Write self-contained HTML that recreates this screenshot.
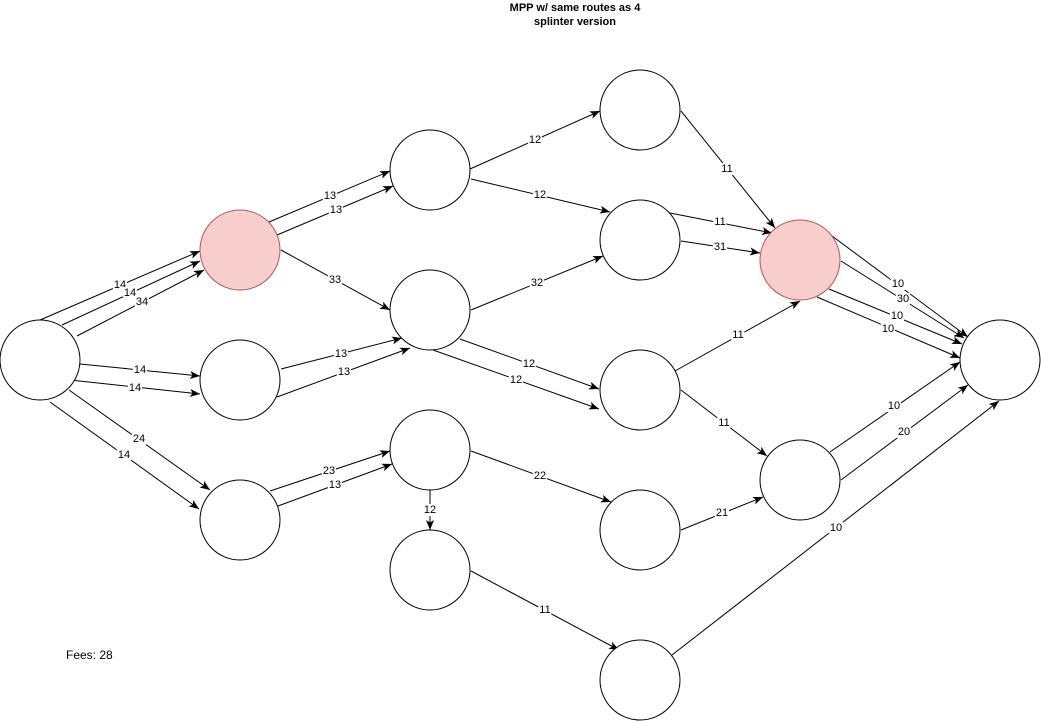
<!DOCTYPE html>
<html><head><meta charset="utf-8"><style>
html,body{margin:0;padding:0;background:#fff;}
#wrap{position:relative;width:1041px;height:721px;overflow:hidden;font-family:"Liberation Sans",Arial,sans-serif;}
svg{position:absolute;left:0;top:0;}
.l{position:absolute;font-size:11px;line-height:12px;background:#fff;color:#000;transform:translate(-50%,-50%);padding:0 1px;white-space:nowrap;}
.title{position:absolute;left:475px;width:200px;top:1px;text-align:center;font-weight:bold;font-size:11px;line-height:14px;}
.fees{position:absolute;left:66px;top:648px;font-size:12px;line-height:14px;}
</style></head><body><div id="wrap">
<svg width="1041" height="721" viewBox="0 0 1041 721">
<defs>
<marker id="a" markerUnits="userSpaceOnUse" markerWidth="10" markerHeight="8" viewBox="0 0 10 8" refX="10" refY="4" orient="auto">
<path d="M0,0 L10,4 L0,8 L2.5,4 Z" fill="#000"/>
</marker>
</defs>
<g stroke="#000" stroke-width="1" fill="none" marker-end="url(#a)">
<line x1="40" y1="320" x2="200" y2="251"/>
<line x1="62" y1="325" x2="200" y2="261"/>
<line x1="77" y1="336" x2="204" y2="270"/>
<line x1="80" y1="364" x2="200" y2="376"/>
<line x1="70" y1="380" x2="200" y2="394"/>
<line x1="69" y1="390" x2="210" y2="490"/>
<line x1="50" y1="402" x2="199" y2="509"/>
<line x1="269" y1="222" x2="390" y2="171"/>
<line x1="277" y1="235" x2="393" y2="186"/>
<line x1="281" y1="250" x2="390" y2="310"/>
<line x1="281" y1="369" x2="402" y2="338"/>
<line x1="277" y1="397" x2="410" y2="348"/>
<line x1="270" y1="491" x2="390" y2="451"/>
<line x1="278" y1="506" x2="392" y2="464"/>
<line x1="430" y1="490" x2="430" y2="530"/>
<line x1="470" y1="169" x2="600" y2="111"/>
<line x1="471" y1="179" x2="610" y2="212"/>
<line x1="471" y1="310" x2="603" y2="256"/>
<line x1="460" y1="339" x2="599" y2="389"/>
<line x1="433" y1="350" x2="599" y2="409"/>
<line x1="681" y1="111" x2="775" y2="228"/>
<line x1="670" y1="213" x2="772" y2="233"/>
<line x1="681" y1="241" x2="760" y2="253"/>
<line x1="675" y1="371" x2="800" y2="301"/>
<line x1="681" y1="390" x2="767" y2="456"/>
<line x1="681" y1="530" x2="763" y2="497"/>
<line x1="471" y1="451" x2="611" y2="502"/>
<line x1="471" y1="571" x2="619" y2="650"/>
<line x1="828" y1="233" x2="968" y2="337"/>
<line x1="841" y1="261" x2="964" y2="338"/>
<line x1="829" y1="289" x2="962" y2="344"/>
<line x1="817" y1="297" x2="960" y2="358"/>
<line x1="830" y1="452" x2="960" y2="362"/>
<line x1="841" y1="480" x2="968" y2="385"/>
<line x1="672" y1="655" x2="999" y2="401"/>
</g>
<g stroke="#000" stroke-width="1" fill="#fff">
<circle cx="40" cy="360" r="40"/>
<circle cx="240" cy="380" r="40"/>
<circle cx="240" cy="520" r="40"/>
<circle cx="430" cy="170" r="40"/>
<circle cx="430" cy="310" r="40"/>
<circle cx="430" cy="450" r="40"/>
<circle cx="430" cy="570" r="40"/>
<circle cx="640" cy="110" r="40"/>
<circle cx="640" cy="240" r="40"/>
<circle cx="640" cy="390" r="40"/>
<circle cx="640" cy="530" r="40"/>
<circle cx="640" cy="680" r="40"/>
<circle cx="800" cy="480" r="40"/>
<circle cx="1000" cy="360" r="40"/>
</g>
<g stroke="#b85450" stroke-width="1" fill="#f8cecc">
<circle cx="240" cy="250" r="40"/>
<circle cx="800" cy="260" r="40"/>
</g>
</svg>
<div class="title">MPP w/ same routes as 4<br>splinter version</div>
<div class="fees">Fees: 28</div>
<div class="l" style="left:120px;top:285px">14</div>
<div class="l" style="left:130px;top:293px">14</div>
<div class="l" style="left:142px;top:302px">34</div>
<div class="l" style="left:140px;top:370px">14</div>
<div class="l" style="left:135px;top:388px">14</div>
<div class="l" style="left:139px;top:439px">24</div>
<div class="l" style="left:124px;top:455px">14</div>
<div class="l" style="left:330px;top:196px">13</div>
<div class="l" style="left:336px;top:210px">13</div>
<div class="l" style="left:335px;top:280px">33</div>
<div class="l" style="left:341px;top:354px">13</div>
<div class="l" style="left:344px;top:372px">13</div>
<div class="l" style="left:329px;top:471px">23</div>
<div class="l" style="left:335px;top:485px">13</div>
<div class="l" style="left:430px;top:510px">12</div>
<div class="l" style="left:535px;top:140px">12</div>
<div class="l" style="left:540px;top:195px">12</div>
<div class="l" style="left:537px;top:283px">32</div>
<div class="l" style="left:529px;top:364px">12</div>
<div class="l" style="left:516px;top:380px">12</div>
<div class="l" style="left:727px;top:169px">11</div>
<div class="l" style="left:720px;top:222px">11</div>
<div class="l" style="left:720px;top:247px">31</div>
<div class="l" style="left:738px;top:335px">11</div>
<div class="l" style="left:724px;top:423px">11</div>
<div class="l" style="left:722px;top:513px">21</div>
<div class="l" style="left:540px;top:476px">22</div>
<div class="l" style="left:545px;top:610px">11</div>
<div class="l" style="left:898px;top:284px">10</div>
<div class="l" style="left:903px;top:299px">30</div>
<div class="l" style="left:897px;top:316px">10</div>
<div class="l" style="left:888px;top:329px">10</div>
<div class="l" style="left:894px;top:406px">10</div>
<div class="l" style="left:904px;top:432px">20</div>
<div class="l" style="left:836px;top:528px">10</div>
</div></body></html>
